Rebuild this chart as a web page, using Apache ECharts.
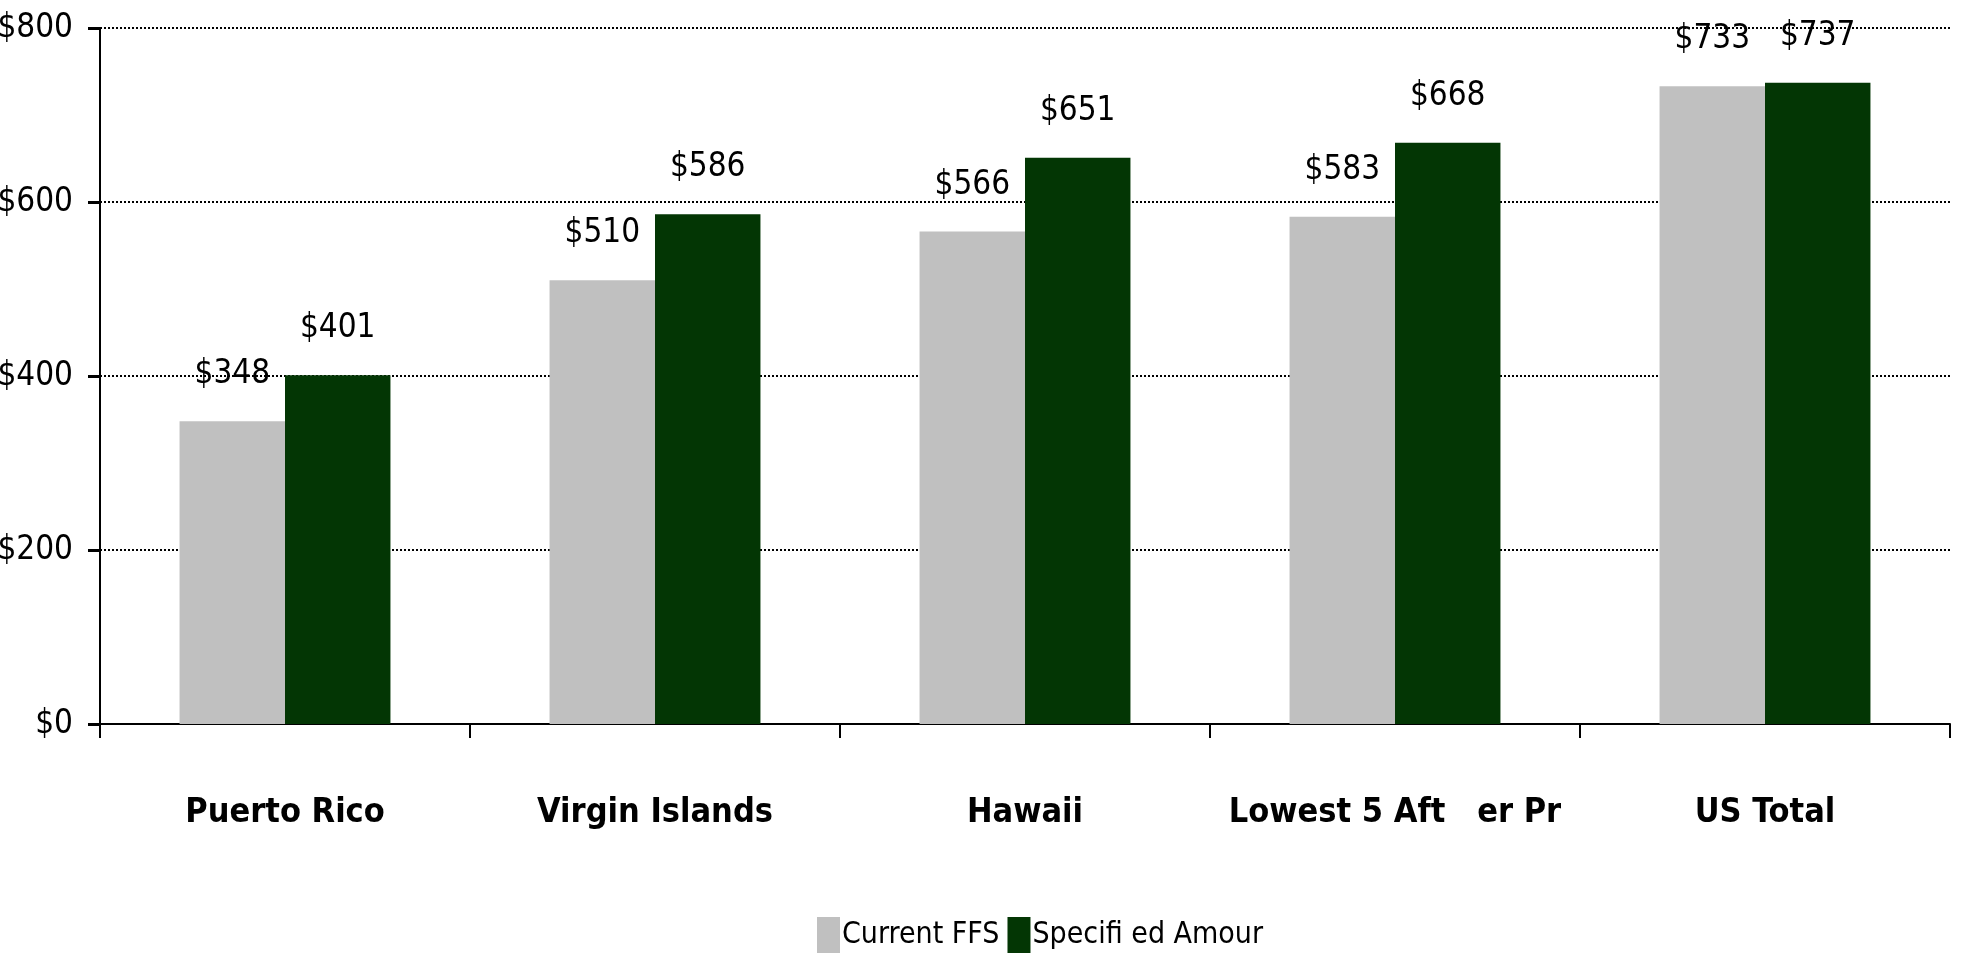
<!DOCTYPE html>
<html>
<head>
<meta charset="utf-8">
<script src="https://cdn.jsdelivr.net/npm/echarts@6/dist/echarts.min.js"></script>
<style>
  html, body { margin: 0; padding: 0; background: #fff; }
  #chart { width: 1961px; height: 960px; }
</style>
</head>
<body>
<div id="chart"></div>
<script>
// chart data
const categories = ['Puerto Rico', 'Virgin Islands', 'Hawaii', 'Lowest 5 Aft   er Pr', 'US Total'];
const currentFFS = [348, 510, 566, 583, 733];
const specifiedAmount = [401, 586, 651, 668, 737];
const seriesNames = ['Current FFS', 'Specifi ed Amour'];
const yTicks = [0, 200, 400, 600, 800];

const narrow = "'Liberation Sans Narrow', 'DejaVu Sans Condensed', 'Roboto Condensed', 'Liberation Sans', sans-serif";

const chart = echarts.init(document.getElementById('chart'));

const barLabel = {
  show: true,
  position: 'top',
  distance: 30,
  color: '#000',
  fontFamily: narrow,
  fontSize: 33,
  formatter: p => '$' + p.value
};

chart.setOption({
  animation: false,
  grid: { left: 100, right: 11, top: 28, bottom: 236, outerBoundsMode: 'none', containLabel: false },
  legend: {
    data: seriesNames,
    bottom: 2,
    left: 812,
    itemWidth: 23,
    itemHeight: 36,
    itemGap: 8,
    icon: 'rect',
    textStyle: { fontFamily: narrow, fontSize: 30, color: '#000', padding: [0, 0, 0, -3] }
  },
  xAxis: {
    type: 'category',
    data: categories,
    axisLine: { lineStyle: { color: '#000', width: 2 } },
    axisTick: { show: true, length: 14, lineStyle: { color: '#000', width: 2 } },
    axisLabel: {
      interval: 0,
      color: '#000',
      fontFamily: narrow,
      fontWeight: 'bold',
      fontSize: 34,
      margin: 72
    }
  },
  yAxis: {
    type: 'value',
    min: yTicks[0],
    max: yTicks[yTicks.length - 1],
    interval: 200,
    axisLine: { show: true, lineStyle: { color: '#000', width: 2 } },
    axisTick: { show: true, length: 12, lineStyle: { color: '#000', width: 3 } },
    axisLabel: {
      color: '#000',
      fontFamily: narrow,
      fontSize: 33,
      margin: 27,
      formatter: v => '$' + v
    },
    splitLine: { lineStyle: { color: '#000', width: 2, type: [2, 2] } }
  },
  series: [
    {
      name: seriesNames[0],
      type: 'bar',
      data: currentFFS,
      barGap: '0%',
      barCategoryGap: '43%',
      itemStyle: { color: '#C0C0C0' },
      label: barLabel
    },
    {
      name: seriesNames[1],
      type: 'bar',
      data: specifiedAmount,
      itemStyle: { color: '#033604' },
      label: barLabel
    }
  ]
});
</script>
</body>
</html>
